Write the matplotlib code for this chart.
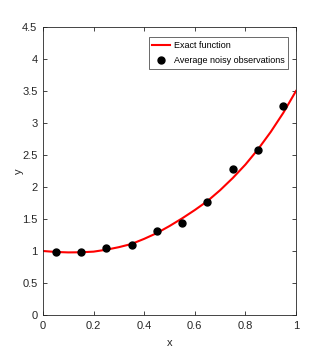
import numpy as np
import matplotlib.pyplot as plt

# exact function
x_exact = [0.0, 0.05, 0.1, 0.15, 0.2, 0.25, 0.3, 0.35, 0.4, 0.45, 0.5,
           0.55, 0.6, 0.65, 0.7, 0.75, 0.8, 0.85, 0.9, 0.95, 1.0]
y_exact = [1.00, 0.985, 0.978, 0.98, 0.99, 1.02, 1.06, 1.11, 1.19, 1.28, 1.39,
           1.51, 1.64, 1.78, 1.95, 2.14, 2.35, 2.59, 2.86, 3.16, 3.50]

# average noisy observations
x_obs = [0.05, 0.15, 0.25, 0.35, 0.45, 0.55, 0.65, 0.75, 0.85, 0.95]
y_obs = [0.98, 0.98, 1.05, 1.09, 1.32, 1.43, 1.77, 2.28, 2.58, 3.27]

x_ticks = [0, 0.2, 0.4, 0.6, 0.8, 1]
x_ticklabels = ['0', '0.2', '0.4', '0.6', '0.8', '1']
y_ticks = [0, 0.5, 1, 1.5, 2, 2.5, 3, 3.5, 4, 4.5]
y_ticklabels = ['0', '0.5', '1', '1.5', '2', '2.5', '3', '3.5', '4', '4.5']

plt.rcParams['font.family'] = ['Liberation Sans', 'DejaVu Sans']
grey = '#262626'

fig = plt.figure(figsize=(3.27, 3.54), dpi=100)
ax = fig.add_axes([43/327, 1 - 315/354, (296 - 43)/327, (315 - 27)/354])

ax.plot(x_exact, y_exact, '-', color='#ff0000', lw=1.5, label='Exact function')
ax.plot(x_obs, y_obs, 'o', color='k', ms=5, ls='none',
        label='Average noisy observations')

ax.set_xlim(0, 1)
ax.set_ylim(0, 4.5)
ax.set_xticks(x_ticks)
ax.set_xticklabels(x_ticklabels)
ax.set_yticks(y_ticks)
ax.set_yticklabels(y_ticklabels)
ax.tick_params(direction='in', top=True, right=True, length=3, width=0.6,
               labelsize=8, colors=grey, pad=4)
for s in ax.spines.values():
    s.set_linewidth(0.6)
    s.set_color(grey)

ax.set_xlabel('x', fontsize=8, color=grey)
ax.set_ylabel('y', fontsize=8, color=grey)
ax.xaxis.set_label_coords(0.5, -0.08)
ax.yaxis.set_label_coords(-0.075, 0.5)

leg = ax.legend(loc='upper right', bbox_to_anchor=(0.97, 0.965), fontsize=6.5,
                frameon=True, fancybox=False, handlelength=2.0,
                borderpad=0.4, labelspacing=0.7, handletextpad=0.4,
                borderaxespad=0.0)
leg.get_frame().set_edgecolor(grey)
leg.get_frame().set_linewidth(0.6)

fig.savefig('out.png', dpi=100)
